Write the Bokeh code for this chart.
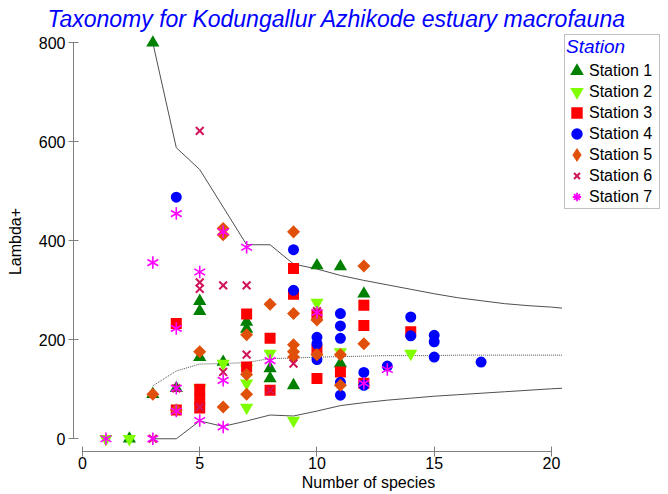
import math
from bokeh.plotting import figure
from bokeh.models import Range1d, FixedTicker, Legend, LegendItem
from bokeh.embed import file_html
from bokeh.resources import INLINE

# ---------------- data ----------------
x_ticks = [0, 5, 10, 15, 20]
y_ticks = [0, 200, 400, 600, 800]

s1_x = [2, 3, 3, 4, 5, 5, 5, 6, 7, 7, 8, 8, 9, 10, 11, 11, 12]
s1_y = [0, 800, 90, 102, 278, 258, 165, 155, 236, 222, 142, 122, 108, 350, 348, 152, 293]

s2_x = [1, 2, 5, 6, 7, 7, 7, 8, 9, 10, 11, 14]
s2_y = [0, 0, 102, 152, 142, 112, 63, 172, 37, 275, 175, 172]

s3_x = [4, 4, 5, 5, 5, 7, 7, 8, 8, 9, 9, 10, 10, 10, 11, 12, 12, 12, 14]
s3_y = [233, 58, 100, 80, 62, 252, 145, 203, 98, 344, 292, 250, 180, 122, 135, 270, 229, 112, 216]

s4_x = [4, 9, 9, 10, 10, 10, 11, 11, 11, 11, 11, 12, 12, 13, 14, 14, 15, 15, 15, 17]
s4_y = [488, 382, 300, 205, 192, 160, 253, 228, 203, 114, 88, 134, 108, 147, 246, 208, 209, 196, 165, 155]

s5_x = [3, 4, 5, 6, 6, 6, 7, 7, 7, 8, 9, 9, 9, 9, 9, 10, 10, 11, 11, 12, 12]
s5_y = [90, 58, 176, 425, 412, 64, 210, 130, 90, 272, 418, 253, 190, 176, 165, 240, 170, 170, 108, 349, 192]

s6_x = [3, 4, 5, 5, 5, 5, 6, 6, 7, 7, 8, 9, 10]
s6_y = [0, 102, 622, 316, 303, 64, 310, 135, 310, 170, 98, 152, 258]

s7_x = [1, 3, 3, 4, 4, 4, 4, 5, 5, 6, 6, 6, 7, 8, 10, 12, 13]
s7_y = [0, 0, 356, 455, 223, 102, 56, 337, 37, 418, 118, 24, 387, 158, 255, 112, 140]

upper_x = [3, 4, 5, 6, 7, 8, 9, 10, 11, 12, 13, 14, 15, 16, 17, 18, 19, 20, 20.45]
upper_y = [800, 588, 544, 468, 392, 392, 353, 343, 330, 320, 311, 302, 293, 285, 279, 273, 269, 266, 264]

mean_x = [3, 4, 5, 6, 7, 8, 9, 10, 11, 12, 13, 14, 15, 16, 17, 18, 19, 20, 20.45]
mean_y = [107, 137, 151, 152, 154, 162, 163, 165, 166, 167, 168, 168, 168, 169, 169, 169, 169, 169, 169]

lower_x = [3, 4, 5, 6, 7, 8, 9, 10, 11, 12, 13, 14, 15, 16, 17, 18, 19, 20, 20.45]
lower_y = [0, 0, 36, 25, 36, 48, 46, 56, 67, 73, 78, 82, 86, 89, 92, 95, 98, 101, 102]

stations = ["Station 1", "Station 2", "Station 3", "Station 4", "Station 5", "Station 6", "Station 7"]

# ---------------- figure ----------------
FONT = "Liberation Sans"
p = figure(width=668, height=494, output_backend="svg", toolbar_location=None,
           x_range=Range1d(-0.384, 24.78), y_range=Range1d(-25.7, 822.8),
           min_border_left=73, min_border_right=5, min_border_top=31, min_border_bottom=43)
p.outline_line_color = None
p.grid.visible = False
p.background_fill_color = "white"
p.border_fill_color = "white"

p.title.text = "Taxonomy for Kodungallur Azhikode estuary macrofauna"
p.title.text_font = FONT
p.title.text_font_style = "italic"
p.title.text_font_size = "23px"
p.title.text_color = "#0000FF"
p.title.align = "left"
p.title.offset = -26
p.title.standoff = 0

for ax, ticks, bounds in ((p.xaxis, x_ticks, (0, 20)), (p.yaxis, y_ticks, (0, 800))):
    ax.ticker = FixedTicker(ticks=ticks, minor_ticks=[])
    ax.bounds = bounds
    ax.axis_line_color = "#808080"
    ax.major_tick_line_color = "#808080"
    ax.minor_tick_line_color = None
    ax.major_tick_in = 5
    ax.major_tick_out = 5
    ax.major_label_text_font = FONT
    ax.major_label_text_font_size = "16px"
    ax.major_label_text_color = "black"
    ax.axis_label_text_font = FONT
    ax.axis_label_text_font_size = "16px"
    ax.axis_label_text_font_style = "normal"
    ax.axis_label_text_color = "black"

p.xaxis.major_label_standoff = 0
p.xaxis.axis_label = "Number of species"
p.xaxis.axis_label_standoff = 2
p.yaxis.major_label_standoff = 3
p.yaxis.axis_label = "Lambda+"
p.yaxis.axis_label_standoff = 12

# funnel lines
p.line(upper_x, upper_y, line_color="#505050", line_width=1)
p.line(lower_x, lower_y, line_color="#505050", line_width=1)
p.line(mean_x, mean_y, line_color="#505050", line_width=1, line_dash="1 1")

# station markers (filled markers get a 3px mitred outline in the same colour,
# so that the legend swatches, whose size Bokeh fixes, look as large as in the plot)
C = ["#008000", "#80FF00", "#FF0000", "#0000FF", "#E0500A", "#D2145A", "#FF00FF"]
OUT = dict(line_width=3, line_join="miter")
r1 = p.scatter(s1_x, s1_y, marker="triangle", size=8, fill_color=C[0], line_color=C[0], **OUT)
r2 = p.scatter(s2_x, s2_y, marker="inverted_triangle", size=8, fill_color=C[1], line_color=C[1], **OUT)
r3 = p.scatter(s3_x, s3_y, marker="square", size=8, fill_color=C[2], line_color=C[2], **OUT)
r4 = p.scatter(s4_x, s4_y, marker="circle", size=8, fill_color=C[3], line_color=C[3], **OUT)
l5 = p.scatter(s5_x, s5_y, marker="diamond", size=0, fill_color=C[4], line_color=C[4], **OUT)
r5 = p.scatter(s5_x, s5_y, marker="square", angle=math.pi / 4, size=6.2,
               fill_color=C[4], line_color=C[4], **OUT)
r6 = p.scatter(s6_x, s6_y, marker="x", size=11, line_color=C[5], line_width=2)
l7 = p.scatter(s7_x, s7_y, marker="asterisk", size=0, line_color=C[6], line_width=1.8)
r7 = [p.scatter(s7_x, s7_y, marker="dash", angle=a, size=12.5, line_color=C[6], line_width=1.6)
      for a in (math.pi / 2, math.pi / 6, -math.pi / 6)]

items = [LegendItem(label=stations[0], renderers=[r1]),
         LegendItem(label=stations[1], renderers=[r2]),
         LegendItem(label=stations[2], renderers=[r3]),
         LegendItem(label=stations[3], renderers=[r4]),
         LegendItem(label=stations[4], renderers=[l5]),
         LegendItem(label=stations[5], renderers=[r6]),
         LegendItem(label=stations[6], renderers=[l7])]
legend = Legend(items=items, location="top_right", title="Station",
                title_text_font=FONT, title_text_font_style="italic", title_text_font_size="19px",
                title_text_color="#0000FF", title_standoff=2, title_text_align="center",
                label_text_font=FONT, label_text_font_size="16px", label_text_color="black",
                glyph_width=21, glyph_height=21, label_height=21, label_standoff=2,
                label_width=69, spacing=0, padding=1, margin=3,
                border_line_color="#808080", border_line_width=1,
                background_fill_color="white", background_fill_alpha=1)
p.add_layout(legend)

open("out.html", "w").write(file_html(p, INLINE))
